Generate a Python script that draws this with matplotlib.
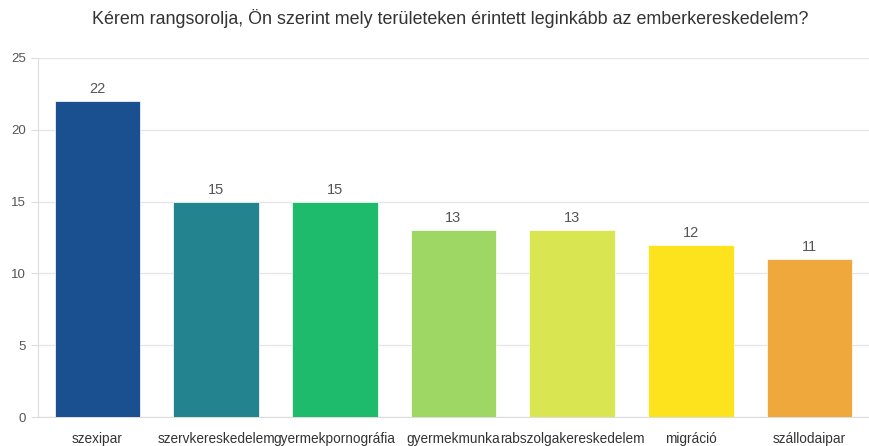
import matplotlib.pyplot as plt

plt.rcParams['font.family'] = ['Liberation Sans', 'DejaVu Sans']

categories = ['szexipar', 'szervkereskedelem', 'gyermekpornográfia', 'gyermekmunka',
              'rabszolgakereskedelem', 'migráció', 'szállodaipar']
values = [22, 15, 15, 13, 13, 12, 11]
colors = ['#1a5090', '#23838f', '#1dbb6b', '#9fd764', '#d9e651', '#fde21e', '#efa83c']
yticks = [0, 5, 10, 15, 20, 25]

fig = plt.figure(figsize=(8.69, 4.46), dpi=100)
ax = fig.add_axes([0.0437, 0.065, 0.9563, 0.805])

x = range(len(categories))
ax.bar(x, values, width=0.72, color=colors, edgecolor='#ffffff', linewidth=0.5, zorder=3)

for xi, v in zip(x, values):
    ax.text(xi, v + 0.35, str(v), ha='center', va='bottom', fontsize=10.5, color='#555555')

ax.set_xlim(-0.5, len(categories) - 0.5)
ax.set_ylim(0, 25)
ax.set_yticks(yticks)
ax.set_xticks(list(x))
ax.set_xticklabels(categories, fontsize=9.8, color='#333333')
ax.tick_params(axis='y', labelsize=9.5, labelcolor='#555555', color='#dddddd', length=5)
ax.tick_params(axis='x', length=0, pad=11)
ax.yaxis.grid(True, color='#e6e6e6', linewidth=1, zorder=0)

for s in ['top', 'right']:
    ax.spines[s].set_visible(False)
ax.spines['left'].set_color('#dddddd')
ax.spines['bottom'].set_color('#dddddd')

fig.text(0.518, 0.958, 'Kérem rangsorolja, Ön szerint mely területeken érintett leginkább az emberkereskedelem?',
         ha='center', va='center', fontsize=12.9, color='#333333')

fig.savefig('out.png', dpi=100)
